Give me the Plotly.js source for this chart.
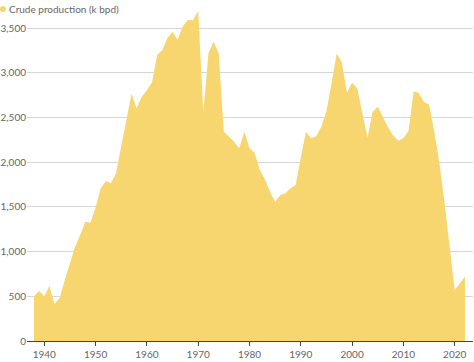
<!DOCTYPE html>
<html>
<head>
<meta charset="utf-8">
<script src="https://cdn.plot.ly/plotly-3.0.1.min.js"></script>
<style>html,body{margin:0;padding:0;background:#fff}#chart{width:474px;height:362px}</style>
</head>
<body>
<div id="chart"></div>
<script>
var years = [1938,1939,1940,1941,1942,1943,1944,1945,1946,1947,1948,1949,1950,1951,1952,1953,1954,1955,1956,1957,1958,1959,1960,1961,1962,1963,1964,1965,1966,1967,1968,1969,1970,1971,1972,1973,1974,1975,1976,1977,1978,1979,1980,1981,1982,1983,1984,1985,1986,1987,1988,1989,1990,1991,1992,1993,1994,1995,1996,1997,1998,1999,2000,2001,2002,2003,2004,2005,2006,2007,2008,2009,2010,2011,2012,2013,2014,2015,2016,2017,2018,2019,2020,2021,2022];
var production = [503,560,500,615,414,480,682,872,1055,1186,1335,1323,1490,1708,1786,1767,1876,2180,2480,2765,2603,2733,2805,2895,3200,3252,3390,3460,3370,3520,3590,3588,3695,2555,3218,3348,3220,2340,2285,2229,2155,2341,2155,2107,1913,1810,1667,1558,1633,1652,1708,1745,2050,2341,2267,2290,2397,2570,2883,3215,3118,2773,2888,2827,2547,2276,2565,2621,2505,2390,2300,2240,2267,2350,2795,2775,2677,2645,2350,2000,1560,1070,570,645,719];
var legendLabel = "Crude production (k bpd)";
var yTicks = [0,500,1000,1500,2000,2500,3000,3500];
var yTickText = ["0","500","1,000","1,500","2,000","2,500","3,000","3,500"];
var xTicks = [1940,1950,1960,1970,1980,1990,2000,2010,2020];

var fillColor = "#f7d66f";
var font = "Lato, 'Open Sans', sans-serif";

var trace = {
  x: years, y: production, type: "scatter", mode: "lines",
  fill: "tozeroy", fillcolor: fillColor,
  line: {width: 0, color: fillColor},
  hoverinfo: "x+y", showlegend: false
};

var layout = {
  width: 474, height: 362,
  margin: {l: 27, r: 1, t: 8, b: 21, pad: 0},
  paper_bgcolor: "#fff", plot_bgcolor: "#fff",
  showlegend: false,
  xaxis: {
    range: [1936.63, 2023.57], tickvals: xTicks, ticktext: xTicks.map(String),
    showgrid: false, zeroline: false,
    showline: true, linecolor: "#444", linewidth: 1,
    ticks: "outside", ticklen: 4, tickcolor: "#444", tickwidth: 1,
    tickfont: {family: font, size: 10, color: "#666"}, fixedrange: true
  },
  yaxis: {
    range: [0, 3725], tickvals: yTicks, ticktext: yTickText,
    showgrid: true, gridcolor: "#d6d6d6", gridwidth: 1,
    zeroline: false, showline: false, ticks: "",
    tickfont: {family: font, size: 10, color: "#666"}, fixedrange: true,
    layer: "below traces"
  },
  shapes: [{
    type: "circle", xref: "paper", yref: "paper",
    x0: (0 - 27) / 446, x1: (6 - 27) / 446,
    y0: (341 - 12) / 333, y1: (341 - 6) / 333,
    fillcolor: fillColor, line: {width: 0}
  }],
  annotations: [{
    text: legendLabel, xref: "paper", yref: "paper",
    x: (7 - 27) / 446, y: (341 - 9) / 333, xanchor: "left", yanchor: "middle",
    showarrow: false, font: {family: font, size: 10, color: "#666"}
  }]
};

Plotly.newPlot("chart", [trace], layout, {displayModeBar: false, staticPlot: true});
</script>
</body>
</html>
